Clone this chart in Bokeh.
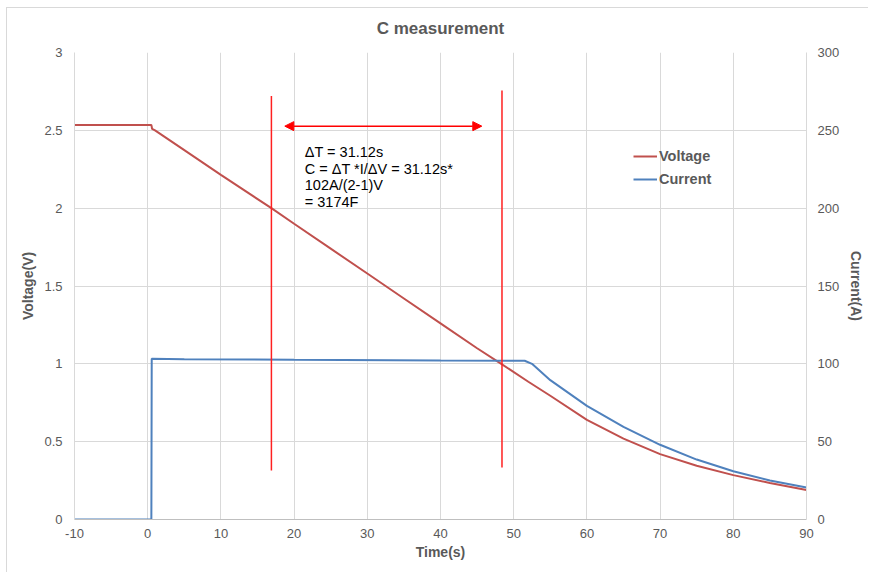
from bokeh.plotting import figure
from bokeh.models import (Range1d, LinearAxis, FixedTicker, CustomJSTickFormatter,
                          Legend, LegendItem, Arrow, NormalHead)
from bokeh.core.properties import value
from bokeh.embed import file_html
from bokeh.resources import INLINE

# ---- data ----
volt_t = [-10, 0.5, 0.6, 1, 5, 10, 16.9, 20, 25, 30, 35, 40, 45, 48.3, 52, 55, 60, 65, 70, 75, 80, 85, 90]
volt_v = [2.535, 2.535, 2.51, 2.50, 2.373, 2.214, 2.0, 1.90, 1.74, 1.58, 1.42, 1.26, 1.10, 1.0,
          0.885, 0.795, 0.64, 0.52, 0.42, 0.345, 0.285, 0.235, 0.19]

curr_t = [-10, 0.5, 0.55, 5, 20, 40, 51.5, 52.5, 55, 60, 65, 70, 75, 80, 85, 90]
curr_i = [0, 0, 103.3, 103.0, 102.6, 102.2, 102.0, 100.0, 89.5, 73.0, 59.5, 48.0, 38.5, 31.0, 25.0, 20.5]

x_ticks = [-10, 0, 10, 20, 30, 40, 50, 60, 70, 80, 90]
v_ticks = [0, 0.5, 1, 1.5, 2, 2.5, 3]
i_ticks = [0, 50, 100, 150, 200, 250, 300]

# cursor lines (time, bottom V, top V)
cursor_t = [16.9, 48.4]
cursor_lo = [0.315, 0.334]
cursor_hi = [2.72, 2.756]

arrow_t = [18.73, 45.64]
arrow_v = 2.527

note_lines = ["\u0394T = 31.12s", "C = \u0394T *I/\u0394V = 31.12s*", "102A/(2-1)V", "= 3174F"]
note_x = [21.46] * 4
note_y = [2.359, 2.253, 2.146, 2.038]

GRAY = "#595959"
FONT = "Liberation Sans"

W, H = 868, 572
FL, FT, FR, FB = 74, 52, 806, 519   # frame edges in page pixels

p = figure(width=W, height=H, output_backend="svg", toolbar_location=None,
           x_range=Range1d(-10, 90), y_range=Range1d(0, 3),
           min_border_left=FL, min_border_right=W - FR, min_border_top=FT, min_border_bottom=H - FB)
p.extra_y_ranges = {"current": Range1d(0, 300)}

p.title.text = "C measurement"
p.title.align = "center"
p.title.text_font = FONT
p.title.text_font_size = "17px"
p.title.text_font_style = "bold"
p.title.text_color = GRAY
p.title.standoff = 30

p.outline_line_color = None
p.background_fill_color = "white"
p.border_fill_color = None
# thin chart-area border at left and top, drawn as the host element's background
p.styles = {
    "background-color": "white",
    "background-image": "linear-gradient(#d9d9d9, #d9d9d9), linear-gradient(#d9d9d9, #d9d9d9)",
    "background-size": "1px 100%, 100% 1px",
    "background-position": "6px 7px, 6px 7px",
    "background-repeat": "no-repeat",
}

fmt = CustomJSTickFormatter(code="return tick.toString();")

def style_axis(ax, label):
    ax.axis_label = label
    ax.axis_label_text_font = FONT
    ax.axis_label_text_font_size = "14px"
    ax.axis_label_text_font_style = "bold"
    ax.axis_label_text_color = GRAY
    ax.major_label_text_font = FONT
    ax.major_label_text_font_size = "13px"
    ax.major_label_text_color = GRAY
    ax.major_tick_out = 0
    ax.major_tick_in = 0
    ax.minor_tick_out = 0
    ax.minor_tick_in = 0
    ax.axis_line_color = "#d9d9d9"
    ax.formatter = fmt

xa = p.xaxis[0]
style_axis(xa, "Time(s)")
xa.ticker = FixedTicker(ticks=x_ticks)
xa.major_label_standoff = 9
xa.axis_label_standoff = 3
xa.axis_line_color = "#bfbfbf"

ya = p.yaxis[0]
style_axis(ya, "Voltage(V)")
ya.ticker = FixedTicker(ticks=v_ticks)
ya.major_label_standoff = 12
ya.axis_label_standoff = 5

ra = LinearAxis(y_range_name="current")
style_axis(ra, "Current(A)")
ra.ticker = FixedTicker(ticks=i_ticks)
ra.major_label_standoff = 11
ra.axis_label_standoff = 6
p.add_layout(ra, "right")

p.xgrid.ticker = FixedTicker(ticks=x_ticks)
p.ygrid.ticker = FixedTicker(ticks=v_ticks)
p.xgrid.grid_line_color = "#d9d9d9"
p.ygrid.grid_line_color = "#d9d9d9"

rv = p.line(volt_t, volt_v, line_color="#C0504D", line_width=2)
rc = p.line(curr_t, curr_i, line_color="#4F81BD", line_width=2, y_range_name="current")

# cursors
p.segment(x0=cursor_t, x1=cursor_t, y0=cursor_lo, y1=cursor_hi, line_color="#FF2020", line_width=1.5)

head_kw = dict(size=9, fill_color="#FF0000", line_color="#FF0000")
p.add_layout(Arrow(x_start=arrow_t[0], y_start=arrow_v, x_end=arrow_t[1], y_end=arrow_v,
                   line_color="#FF0000", line_width=1.5,
                   start=NormalHead(**head_kw), end=NormalHead(**head_kw)))

p.text(x=note_x, y=note_y, text=note_lines, text_font=value(FONT), text_font_size="14.5px",
       text_color="#000000", text_baseline="middle", text_align="left")

legend = Legend(items=[LegendItem(label="Voltage", renderers=[rv]),
                       LegendItem(label="Current", renderers=[rc])],
                location=(559, 330))
legend.label_text_font = FONT
legend.label_text_font_size = "14.5px"
legend.label_text_font_style = "bold"
legend.label_text_color = GRAY
legend.glyph_width = 24
legend.glyph_height = 20
legend.label_height = 20
legend.label_standoff = 2
legend.spacing = 3
legend.padding = 0
legend.margin = 0
legend.border_line_alpha = 0
legend.background_fill_alpha = 0
p.add_layout(legend, "center")

open("out.html", "w").write(file_html(p, INLINE))
